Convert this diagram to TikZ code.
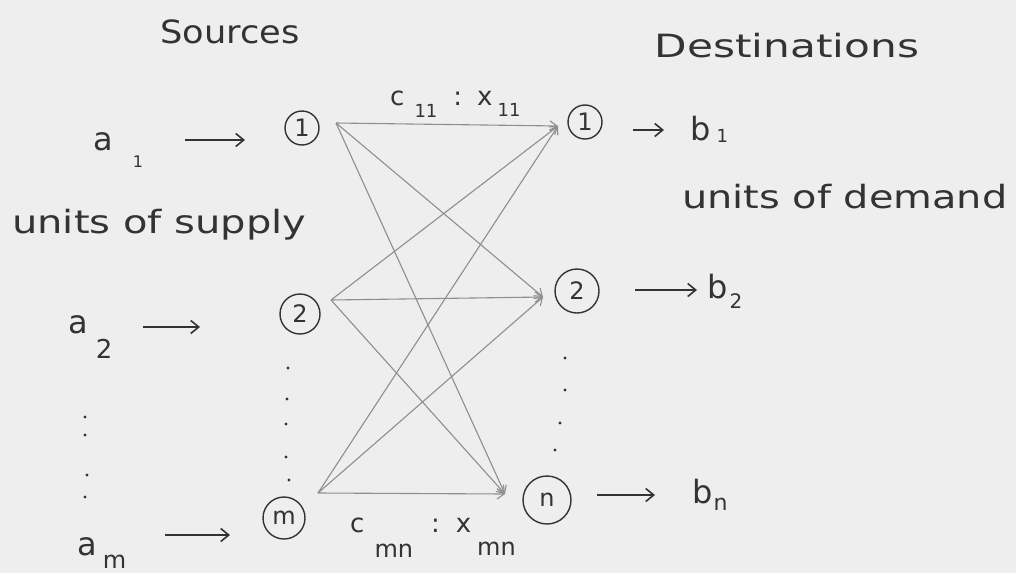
\documentclass[tikz,border=0pt]{standalone}
\usepackage{fontspec}
\setmainfont{DejaVu Sans}
\usepackage{graphicx}
\usetikzlibrary{arrows.meta}
\definecolor{ink}{HTML}{333333}
\definecolor{pencil}{HTML}{8E8E8E}
\definecolor{paper}{HTML}{EEEEEE}
\newcommand{\hws}[2]{\scalebox{#1}[1]{#2}}
\newcommand{\lowsub}[3]{\raisebox{#1}{\fontsize{#2}{#2}\selectfont #3}}
\begin{document}
\begin{tikzpicture}[x=1pt,y=-1pt,
  lbl/.style={text=ink, font=\fontsize{32}{38}\selectfont, inner sep=0pt},
  clbl/.style={text=ink, font=\fontsize{26}{30}\selectfont, inner sep=0pt},
  nd/.style={circle, draw=ink, line width=1.4pt, text=ink, font=\fontsize{24}{24}\selectfont, inner sep=0pt},
  edge/.style={draw=pencil, line width=1.1pt, -{Straight Barb[length=7pt,width=10pt]}},
  harrow/.style={draw=ink, line width=1.6pt, -{Straight Barb[length=8pt,width=13pt]}},
  dotmark/.style={circle, fill=ink, inner sep=0pt, minimum size=3.4pt},
]
\fill[paper] (0,0) rectangle (1016,573);
\useasboundingbox (0,0) rectangle (1016,573);

% titles
\node[lbl] (srcT) at (230,32) {\hws{1.1}{Sources}};
\node[lbl] (dstT) at (787,46) {\hws{1.32}{Destinations}};

% source and destination nodes
\node[nd, minimum size=34pt] (s1) at (302,128) {1};
\node[nd, minimum size=40pt] (s2) at (300,314) {2};
\node[nd, minimum size=42pt] (sm) at (284,518) {m};
\node[nd, minimum size=34pt] (d1) at (585,122) {1};
\node[nd, minimum size=44pt] (d2) at (577,291) {2};
\node[nd, minimum size=48pt] (dn) at (547,500) {n};

% ports where the pencil lines meet
\coordinate (s1o) at (336,123);
\coordinate (s2o) at (331,300);
\coordinate (smo) at (318,493);
\coordinate (d1i) at (558,126);
\coordinate (d2i) at (543,297);
\coordinate (dni) at (505,494);

\foreach \s in {s1o,s2o,smo}
  \foreach \d in {d1i,d2i,dni}
    \draw[edge] (\s) -- (\d);

% cost labels
\node[clbl, anchor=base west] (c11) at (390,105)
  {c\hspace{10pt}\lowsub{-12pt}{18}{11}\hspace{16pt}:\hspace{15pt}x\hspace{5pt}\lowsub{-11pt}{18}{11}};
\node[clbl, anchor=base west] (cmn) at (350,532)
  {c\hspace{10pt}\lowsub{-25pt}{24}{mn}\hspace{18pt}:\hspace{16pt}x\hspace{6pt}\lowsub{-23pt}{24}{mn}};

% supply side
\node[lbl, anchor=base west] (a1) at (93,150) {a\hspace{20pt}\lowsub{-17pt}{16}{1}};
\node[lbl, anchor=base west] (a2) at (68,333) {a\hspace{8pt}\lowsub{-25pt}{26}{2}};
\node[lbl, anchor=base west] (am) at (77,555) {a\hspace{6pt}\lowsub{-13pt}{24}{m}};
\node[lbl, anchor=base west] (supply) at (12,233) {\hws{1.25}{units of supply}};

\coordinate (a1s) at (185,140); \coordinate (a1e) at (245,140);
\coordinate (a2s) at (143,327); \coordinate (a2e) at (200,327);
\coordinate (ams) at (165,535); \coordinate (ame) at (230,535);
\draw[harrow] (a1s) -- (a1e);
\draw[harrow] (a2s) -- (a2e);
\draw[harrow] (ams) -- (ame);

% demand side
\node[lbl, anchor=base west] (b1) at (690,140) {b\hspace{6pt}\lowsub{-2pt}{18}{1}};
\node[lbl, anchor=base west] (b2) at (707,298) {b\hspace{2pt}\lowsub{-10pt}{20}{2}};
\node[lbl, anchor=base west] (bn) at (692,503) {b\hspace{1pt}\lowsub{-7pt}{22}{n}};
\node[lbl, anchor=base west] (demand) at (682,208) {\hws{1.245}{units of demand}};

\coordinate (b1s) at (633,130); \coordinate (b1e) at (664,130);
\coordinate (b2s) at (635,290); \coordinate (b2e) at (697,290);
\coordinate (bns) at (597,495); \coordinate (bne) at (655,495);
\draw[harrow] (b1s) -- (b1e);
\draw[harrow] (b2s) -- (b2e);
\draw[harrow] (bns) -- (bne);

% ellipsis dots
\foreach \p [count=\i] in {(85,417),(85,435),(87,475),(85,497)}
  \node[dotmark] (dl\i) at \p {};
\foreach \p [count=\i] in {(288,368),(287,399),(286,424),(286,457),(289,480)}
  \node[dotmark] (dm\i) at \p {};
\foreach \p [count=\i] in {(565,358),(565,390),(560,423),(555,450)}
  \node[dotmark] (dr\i) at \p {};
\end{tikzpicture}
\end{document}
